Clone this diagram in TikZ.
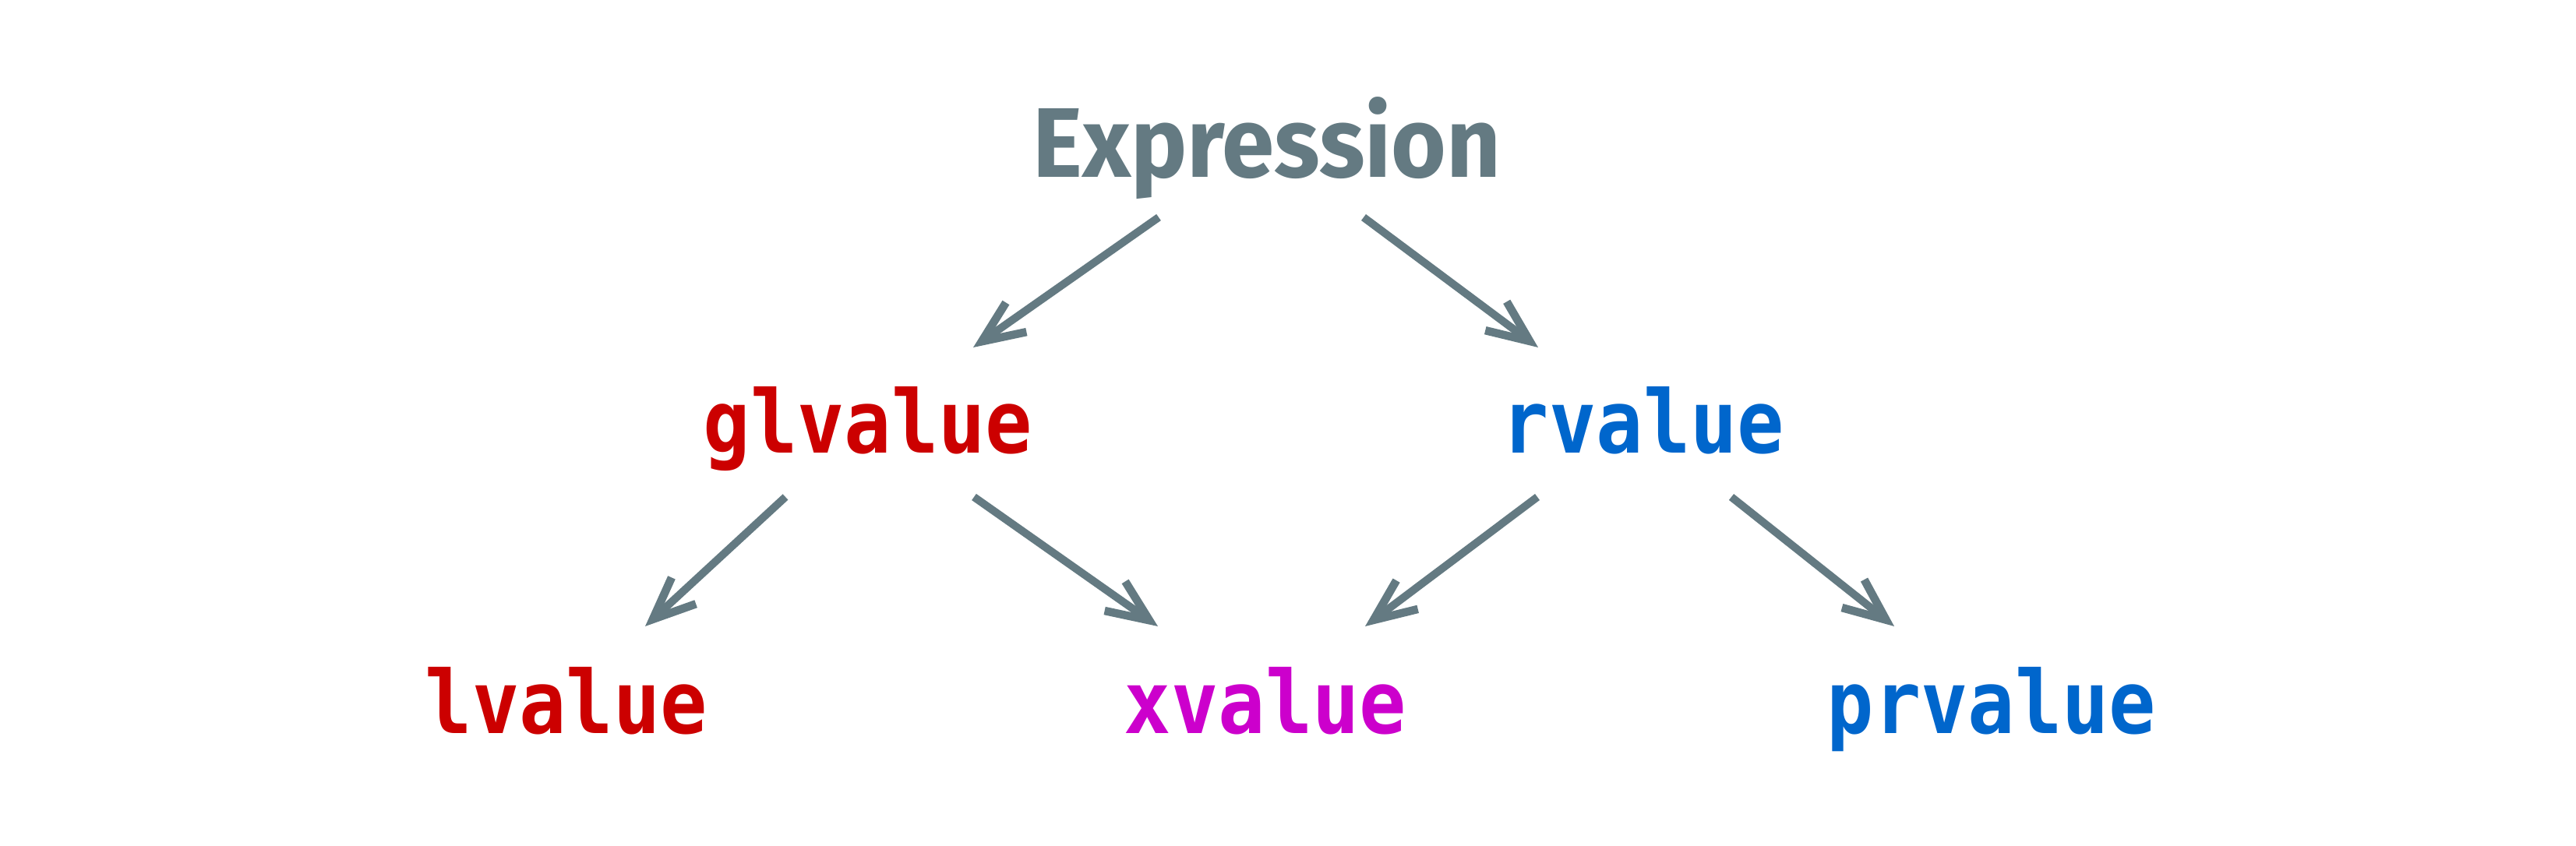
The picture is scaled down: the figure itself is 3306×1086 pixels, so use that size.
\documentclass[tikz,border=0pt]{standalone}
\usepackage{fontspec}
\usetikzlibrary{arrows.meta,calc}
\newfontfamily\exprfont{Fira Sans}[FakeStretch=0.955]
\newfontfamily\monofnt{DejaVu Sans Mono}[FakeStretch=0.895]
\definecolor{slate}{HTML}{647A82}
\definecolor{lred}{HTML}{CC0000}
\definecolor{xmag}{HTML}{CC00CC}
\definecolor{rblue}{HTML}{0066CC}
\begin{document}
\begin{tikzpicture}[x=1pt,y=1pt,
  lbl/.style={inner sep=0pt,anchor=base},
  exprlbl/.style={lbl,text=slate,font=\exprfont\bfseries\fontsize{127}{150}\selectfont},
  catlbl/.style={lbl,font=\monofnt\bfseries\fontsize{112}{130}\selectfont},
  arr/.style={draw=slate,line width=10pt,-{Straight Barb[length=54pt,width=46pt,line width=10.5pt]}}]
\useasboundingbox[fill=white] (0,0) rectangle (3306,1086);
\node[exprlbl] (expr) at (1626,858) {Expression};
\node[catlbl,text=lred] (glv) at (1114,504) {glvalue};
\node[catlbl,text=rblue] (rv) at (2109,504) {rvalue};
\node[catlbl,text=lred] (lv) at (727,144) {lvalue};
\node[catlbl,text=xmag] (xv) at (1624,144) {xvalue};
\node[catlbl,text=rblue] (prv) at (2556,144) {prvalue};
\draw[arr] ($(expr.base)+(-139,-51)$) -- ($(glv.base)+(135,136)$);
\draw[arr] ($(expr.base)+(124,-51)$) -- ($(rv.base)+(-135,136)$);
\draw[arr] ($(glv.base)+(-106,-56)$) -- ($(lv.base)+(101,138)$);
\draw[arr] ($(glv.base)+(136,-56)$) -- ($(xv.base)+(-138,138)$);
\draw[arr] ($(rv.base)+(-136,-56)$) -- ($(xv.base)+(128,138)$);
\draw[arr] ($(rv.base)+(113,-56)$) -- ($(prv.base)+(-125,138)$);
\end{tikzpicture}
\end{document}
